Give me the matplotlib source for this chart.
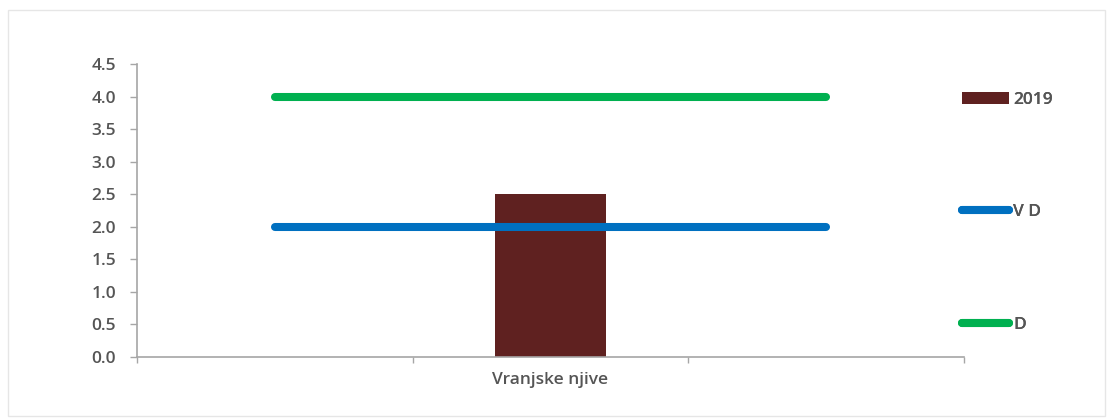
import matplotlib
matplotlib.use("Agg")
import matplotlib.pyplot as plt
from matplotlib.patches import Rectangle
import numpy as np

plt.rcParams['font.family'] = ['Open Sans', 'DejaVu Sans']
plt.rcParams['font.weight'] = 'semibold'

# Data
categories = ["", "Vranjske njive", ""]
bar_values = [np.nan, 2.5, np.nan]
vd_values = [2.0, 2.0, 2.0]
d_values = [4.0, 4.0, 4.0]
yticks = [0.0, 0.5, 1.0, 1.5, 2.0, 2.5, 3.0, 3.5, 4.0, 4.5]

BAR_COLOR = "#5F2120"
VD_COLOR = "#0070C0"
D_COLOR = "#00B050"
AXIS_COLOR = "#A6A6A6"
TEXT_COLOR = "#555555"
FS = 12.5

W, H = 1111, 419
fig = plt.figure(figsize=(W / 100, H / 100), dpi=100)
ax = fig.add_axes([137 / W, 1 - 357 / H, (964 - 137) / W, (357 - 64) / H])

x = np.arange(len(categories))
bars = ax.bar(x, bar_values, width=0.4, color=BAR_COLOR, label="2019", zorder=2)
vd_line, = ax.plot(x, vd_values, color=VD_COLOR, lw=5.8, solid_capstyle="round",
                   label="V D", zorder=3)
d_line, = ax.plot(x, d_values, color=D_COLOR, lw=5.8, solid_capstyle="round",
                  label="D", zorder=3)

ax.set_xlim(-0.5, len(categories) - 0.5)
ax.set_ylim(0, 4.5)
ax.set_yticks(yticks)
ax.set_yticklabels([f"{v:.1f}" for v in yticks])
ax.set_xticks(x)
ax.set_xticklabels(categories)
ax.set_xticks(np.arange(-0.5, len(categories)), minor=True)
ax.tick_params(axis="x", which="major", length=0, pad=11, labelsize=FS, colors=TEXT_COLOR)
ax.tick_params(axis="x", which="minor", length=4, color=AXIS_COLOR, width=1)
ax.tick_params(axis="y", length=5, color=AXIS_COLOR, width=1, labelsize=FS,
               labelcolor=TEXT_COLOR, pad=10)

for side in ("top", "right"):
    ax.spines[side].set_visible(False)
for side in ("left", "bottom"):
    ax.spines[side].set_color(AXIS_COLOR)
    ax.spines[side].set_linewidth(1.2)

# Legend entries stacked down the right side
entries = [(bars, "2019", 100), (vd_line, "V D", 212), (d_line, "D", 325)]
for handle, label, ypix in entries:
    leg = fig.legend([handle], [label], loc="center left",
                     bbox_to_anchor=(957 / W, 1 - ypix / H), frameon=False,
                     handlelength=2.7, handletextpad=0.25, fontsize=FS,
                     borderaxespad=0, borderpad=0.3)
    for t in leg.get_texts():
        t.set_color(TEXT_COLOR)
    fig.add_artist(leg)

# Outer chart border
fig.add_artist(Rectangle((8 / W, 1 - 416 / H), (1105 - 8) / W, (416 - 10) / H,
                         transform=fig.transFigure, fill=False,
                         edgecolor="#E6E6E6", lw=1))

fig.savefig("out.png", dpi=100)
